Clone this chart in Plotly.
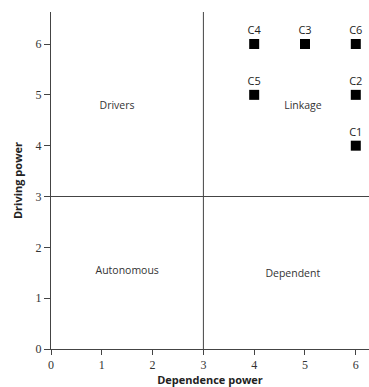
import plotly.graph_objects as go

labels = ["C1", "C2", "C3", "C4", "C5", "C6"]
dependence = [6, 6, 5, 4, 4, 6]
driving = [4, 5, 6, 6, 5, 6]

quad_names = ["Drivers", "Linkage", "Autonomous", "Dependent"]
quad_x = [1.3, 4.96, 1.5, 4.76]
quad_y = [4.78, 4.78, 1.52, 1.46]

ticks = [0, 1, 2, 3, 4, 5, 6]
split = 3

fig = go.Figure()
fig.add_trace(go.Scatter(
    x=dependence, y=driving, mode="markers+text", text=labels,
    textposition="top center",
    textfont=dict(family="Open Sans", size=11, color="#222"),
    marker=dict(symbol="square", size=10, color="black"),
    cliponaxis=False, showlegend=False,
))
fig.add_trace(go.Scatter(
    x=quad_x, y=quad_y, mode="text", text=quad_names,
    textfont=dict(family="Open Sans", size=10.5, color="#333"),
    showlegend=False,
))

fig.add_shape(type="line", xref="x", yref="paper", x0=split, x1=split, y0=0, y1=1,
              line=dict(color="#444", width=1))
fig.add_shape(type="line", xref="paper", yref="y", x0=0, x1=1, y0=split, y1=split,
              line=dict(color="#444", width=1))

fig.update_xaxes(range=[0, 6.26], tickvals=ticks, showgrid=False, zeroline=False,
                 showline=True, linecolor="#444", linewidth=1,
                 ticks="outside", ticklen=5, tickcolor="#444",
                 tickfont=dict(family="Liberation Serif", size=12, color="#333"),
                 title=dict(text="<b>Dependence power</b>", standoff=4,
                            font=dict(family="Open Sans", size=11, color="#222")))
fig.update_yaxes(range=[0, 6.63], tickvals=ticks, showgrid=False, zeroline=False,
                 showline=True, linecolor="#444", linewidth=1,
                 ticks="outside", ticklen=6, tickcolor="#444",
                 tickfont=dict(family="Liberation Serif", size=12, color="#333"),
                 title=dict(text="<b>Driving power</b>", standoff=10,
                            font=dict(family="Open Sans", size=11, color="#222")))

fig.update_layout(width=369, height=387, margin=dict(l=51, r=0, t=12, b=38),
                  plot_bgcolor="white", paper_bgcolor="white")
fig.write_html("out.html", config={"displayModeBar": False},
               post_script="document.body.style.margin='0';document.body.style.overflow='hidden';")
